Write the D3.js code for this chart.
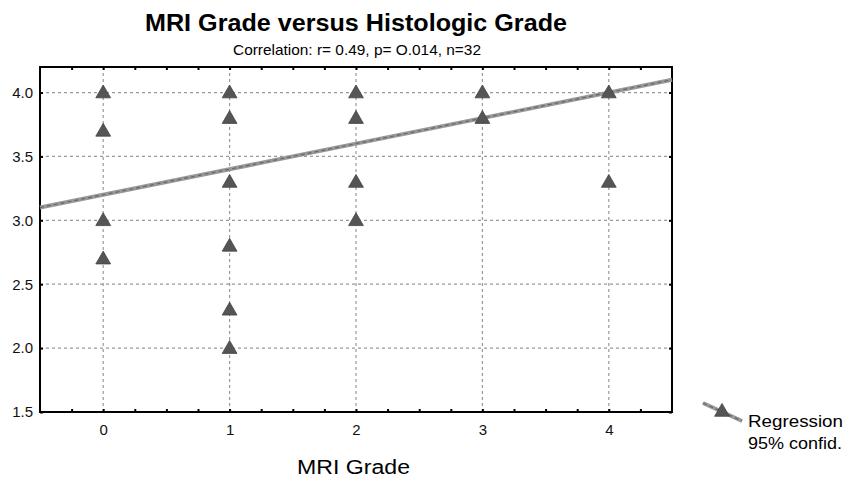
<!DOCTYPE html>
<html>
<head>
<meta charset="utf-8">
<script src="https://cdn.jsdelivr.net/npm/d3@7"></script>
<style>
  body { margin: 0; background: #fff; }
  svg { font-family: "Liberation Sans", Arial, sans-serif; }
</style>
</head>
<body>
<div id="chart"></div>
<script>
// valeurs
var mriGrade   = [0, 0, 0, 0, 1, 1, 1, 1, 1, 1, 2, 2, 2, 2, 3, 3, 4, 4];
var histoGrade = [4.0, 3.7, 3.0, 2.7, 4.0, 3.8, 3.3, 2.8, 2.3, 2.0, 4.0, 3.8, 3.3, 3.0, 4.0, 3.8, 4.0, 3.3];
var xTicks = [0, 1, 2, 3, 4];
var yTicks = [1.5, 2.0, 2.5, 3.0, 3.5, 4.0];
var regIntercept = 3.2;
var regSlope = 0.2;

var width = 856, height = 478;
var margin = {top: 67, right: 184, bottom: 66, left: 40};

var svg = d3.select("#chart").append("svg")
    .attr("width", width)
    .attr("height", height);

var x = d3.scaleLinear().domain([-0.5, 4.5]).range([margin.left, width - margin.right]);
var y = d3.scaleLinear().domain([1.5, 4.2]).range([height - margin.bottom, margin.top]);

// titres
svg.append("text")
    .attr("x", 145).attr("y", 31)
    .attr("textLength", 422).attr("lengthAdjust", "spacingAndGlyphs")
    .style("font-size", "23px").style("font-weight", "bold")
    .text("MRI Grade versus Histologic Grade");

svg.append("text")
    .attr("x", 233).attr("y", 55)
    .attr("textLength", 248).attr("lengthAdjust", "spacingAndGlyphs")
    .style("font-size", "15px")
    .text("Correlation: r= 0.49, p= O.014, n=32");

// grille en pointillés
svg.append("g").selectAll("line").data(xTicks).enter().append("line")
    .attr("x1", function(d) { return x(d); }).attr("x2", function(d) { return x(d); })
    .attr("y1", y(4.2)).attr("y2", y(1.5))
    .attr("stroke", "#999").attr("stroke-width", 1.2).attr("stroke-dasharray", "3,3");

svg.append("g").selectAll("line").data(yTicks).enter().append("line")
    .attr("x1", x(-0.5)).attr("x2", x(4.5))
    .attr("y1", function(d) { return y(d); }).attr("y2", function(d) { return y(d); })
    .attr("stroke", "#999").attr("stroke-width", 1.2).attr("stroke-dasharray", "3,3");

// axes (ticks vers l'intérieur)
var minorX = d3.range(-0.25, 4.5, 0.25);
svg.append("g")
    .attr("transform", "translate(0," + y(1.5) + ")")
    .call(d3.axisBottom(x).tickValues(xTicks).tickSize(0).tickPadding(12).tickFormat(d3.format("d")))
    .attr("font-size", 15).attr("font-family", "Liberation Sans, Arial, sans-serif")
    .call(function(g) { g.select(".domain").remove(); g.selectAll("text").attr("fill", "#111"); });

svg.append("g")
    .attr("transform", "translate(0," + y(1.5) + ")")
    .call(d3.axisTop(x).tickValues(minorX).tickSize(3).tickFormat(""))
    .call(function(g) { g.select(".domain").remove(); g.selectAll("line").attr("stroke-width", 2); });

svg.append("g")
    .attr("transform", "translate(0," + y(4.2) + ")")
    .call(d3.axisBottom(x).tickValues(minorX).tickSize(3).tickFormat(""))
    .call(function(g) { g.select(".domain").remove(); g.selectAll("line").attr("stroke-width", 2); });

svg.append("g")
    .attr("transform", "translate(" + x(-0.5) + ",0)")
    .call(d3.axisRight(y).tickValues(yTicks).tickSize(3).tickFormat(""))
    .call(function(g) { g.select(".domain").remove(); g.selectAll("line").attr("stroke-width", 2); });

svg.append("g")
    .attr("transform", "translate(" + x(-0.5) + ",0)")
    .call(d3.axisLeft(y).tickValues(yTicks).tickSize(0).tickPadding(7).tickFormat(d3.format(".1f")))
    .attr("font-size", 15).attr("font-family", "Liberation Sans, Arial, sans-serif")
    .call(function(g) { g.select(".domain").remove(); g.selectAll("text").attr("fill", "#111"); });

svg.append("g")
    .attr("transform", "translate(" + x(4.5) + ",0)")
    .call(d3.axisLeft(y).tickValues(yTicks).tickSize(3).tickFormat(""))
    .call(function(g) { g.select(".domain").remove(); g.selectAll("line").attr("stroke-width", 2); });

// cadre
svg.append("rect")
    .attr("x", x(-0.5)).attr("y", y(4.2))
    .attr("width", x(4.5) - x(-0.5)).attr("height", y(1.5) - y(4.2))
    .attr("fill", "none").attr("stroke", "#000").attr("stroke-width", 2);

// droite de régression
var regLine = d3.line()
    .x(function(d) { return x(d); })
    .y(function(d) { return y(regIntercept + regSlope * d); });

svg.append("path").datum([-0.5, 4.5])
    .attr("d", regLine).attr("fill", "none")
    .attr("stroke", "#999").attr("stroke-width", 4);
svg.append("path").datum([-0.5, 4.5])
    .attr("d", regLine).attr("fill", "none")
    .attr("stroke", "#666").attr("stroke-width", 1.2).attr("stroke-dasharray", "4,3");

// points (triangles)
var tri = d3.symbol().type(d3.symbolTriangle).size(95);
svg.append("g").selectAll("path").data(mriGrade).enter().append("path")
    .attr("d", tri)
    .attr("transform", function(d, i) { return "translate(" + x(d) + "," + (y(histoGrade[i]) + 1) + ")"; })
    .attr("fill", "#555").attr("stroke", "#444").attr("stroke-width", 0.8);

// titre de l'axe x
svg.append("text")
    .attr("x", 297).attr("y", 474)
    .attr("textLength", 113).attr("lengthAdjust", "spacingAndGlyphs")
    .style("font-size", "20px")
    .text("MRI Grade");

// légende
var leg = svg.append("g");
leg.append("line")
    .attr("x1", 703).attr("y1", 403).attr("x2", 742).attr("y2", 421)
    .attr("stroke", "#999").attr("stroke-width", 4);
leg.append("line")
    .attr("x1", 703).attr("y1", 403).attr("x2", 742).attr("y2", 421)
    .attr("stroke", "#666").attr("stroke-width", 1.2).attr("stroke-dasharray", "4,3");
leg.append("path").attr("d", tri)
    .attr("transform", "translate(722,412)")
    .attr("fill", "#555").attr("stroke", "#444").attr("stroke-width", 0.8);
leg.append("text").attr("x", 748).attr("y", 427)
    .attr("textLength", 95).attr("lengthAdjust", "spacingAndGlyphs")
    .style("font-size", "17px").text("Regression");
leg.append("text").attr("x", 748).attr("y", 449)
    .attr("textLength", 94).attr("lengthAdjust", "spacingAndGlyphs")
    .style("font-size", "17px").text("95% confid.");
</script>
</body>
</html>
